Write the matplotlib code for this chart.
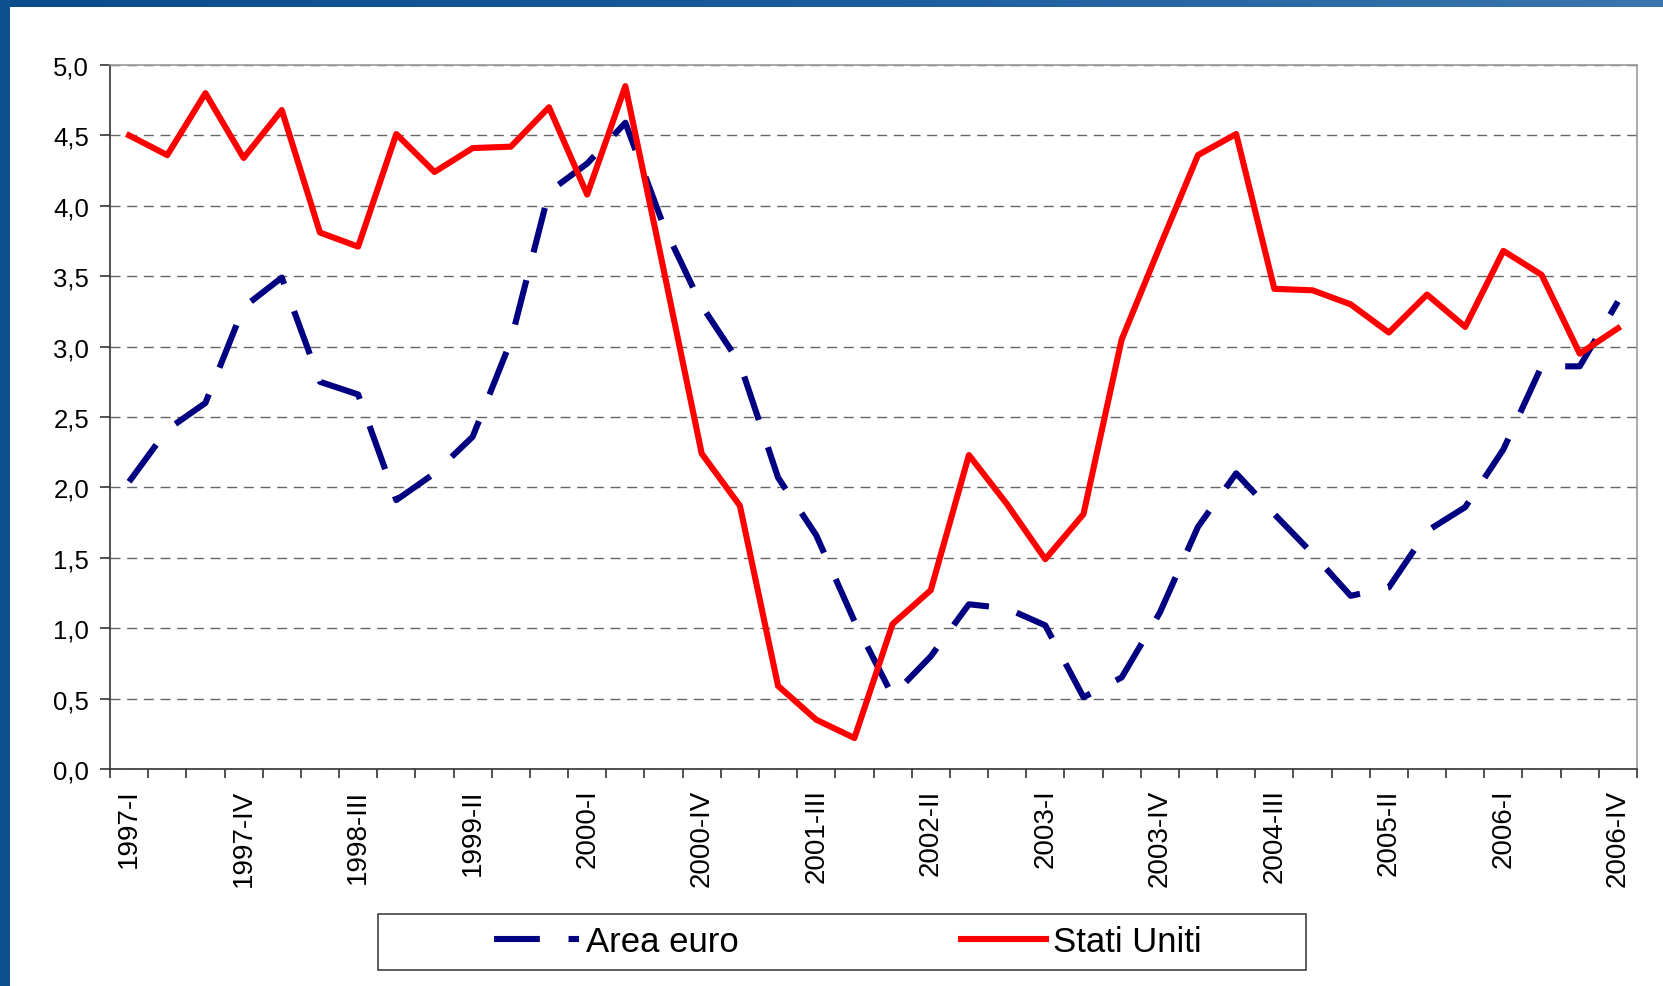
import matplotlib
matplotlib.use("Agg")
import matplotlib.pyplot as plt
import numpy as np
from matplotlib.patches import Rectangle
from matplotlib.colors import LinearSegmentedColormap

plt.rcParams['font.family'] = ['Liberation Sans', 'DejaVu Sans']

# quarterly data 1997-I .. 2006-IV
n_quarters = 40
tick_labels = ["1997-I", "1997-IV", "1998-III", "1999-II", "2000-I", "2000-IV", "2001-III",
               "2002-II", "2003-I", "2003-IV", "2004-III", "2005-II", "2006-I", "2006-IV"]

area_euro = [2.04, 2.41, 2.60, 3.28, 3.49, 2.75, 2.66, 1.91, 2.10, 2.36,
             3.04, 4.10, 4.30, 4.59, 3.86, 3.29, 2.88, 2.07, 1.66, 1.05,
             0.52, 0.80, 1.17, 1.14, 1.02, 0.51, 0.65, 1.11, 1.72, 2.10,
             1.81, 1.53, 1.23, 1.29, 1.69, 1.86, 2.27, 2.86, 2.86, 3.32]

stati_uniti = [4.50, 4.36, 4.80, 4.34, 4.68, 3.81, 3.71, 4.51, 4.24, 4.41,
               4.42, 4.70, 4.08, 4.85, 3.55, 2.24, 1.87, 0.59, 0.35, 0.22,
               1.03, 1.27, 2.23, 1.88, 1.49, 1.81, 3.05, 3.71, 4.36, 4.51,
               3.41, 3.40, 3.30, 3.10, 3.37, 3.14, 3.68, 3.51, 2.95, 3.13]

y_ticks = np.arange(0, 5.01, 0.5)

W, H = 1663, 987
fig = plt.figure(figsize=(W / 100, H / 100), dpi=100)
fig.patch.set_facecolor('white')

# blue frame: left bar + gradient top bar
fig.patches.append(Rectangle((0, 0), 10 / W, 1, transform=fig.transFigure,
                             facecolor='#0B4F8E', edgecolor='none', zorder=0))
bar_ax = fig.add_axes([0, 1 - 7.5 / H, 1, 7.5 / H])
cmap = LinearSegmentedColormap.from_list('bar', ['#0A4B89', '#1A5C9C', '#3A76AE'])
bar_ax.imshow(np.linspace(0, 1, 256)[None, :], aspect='auto', cmap=cmap)
bar_ax.axis('off')

ax = fig.add_axes([110 / W, (H - 770) / H, (1637 - 110) / W, (770 - 66) / H])
x = np.arange(n_quarters)

ax.plot(x, area_euro, color='#000080', lw=4.4, linestyle=(0, (7.5, 4.7)),
        solid_joinstyle='miter', label='Area euro', zorder=3)
ax.plot(x, stati_uniti, color='#FF0000', lw=4.4, solid_joinstyle='round',
        label='Stati Uniti', zorder=4)

ax.set_xlim(-0.5, n_quarters - 0.5)
ax.set_ylim(0, 5)

ax.set_yticks(y_ticks)
ax.set_yticklabels([f"{v:.1f}".replace('.', ',') for v in y_ticks], fontsize=18.5)
ax.set_xticks(x[::3])
ax.set_xticklabels(tick_labels, rotation=90, fontsize=20)
ax.set_xticks(np.arange(-0.5, n_quarters, 1), minor=True)

ax.tick_params(axis='y', which='major', length=7, width=1.1, color='#222222', pad=8)
ax.tick_params(axis='x', which='major', length=0, pad=14)
ax.tick_params(axis='x', which='minor', length=6.5, width=1.1, color='#222222')

ax.yaxis.grid(True, color='#666666', lw=1.0, linestyle=(0, (7.2, 4.8)))
ax.set_axisbelow(True)

for side in ['left', 'bottom']:
    ax.spines[side].set_color('#333333')
    ax.spines[side].set_linewidth(1.2)
for side in ['top', 'right']:
    ax.spines[side].set_color('#999999')
    ax.spines[side].set_linewidth(1.2)

# legend box
fig.patches.append(Rectangle((378 / W, (H - 971) / H), 928 / W, 56 / H,
                             transform=fig.transFigure, facecolor='white',
                             edgecolor='#333333', lw=1.1, zorder=1))
handles, labels = ax.get_legend_handles_labels()
fig.legend(handles, labels, loc='center', bbox_to_anchor=(848 / W, 1 - 943 / H),
           ncol=2, frameon=False, fontsize=25, handlelength=2.45,
           handletextpad=0.2, columnspacing=6.4)

fig.savefig('out.png', dpi=100)
